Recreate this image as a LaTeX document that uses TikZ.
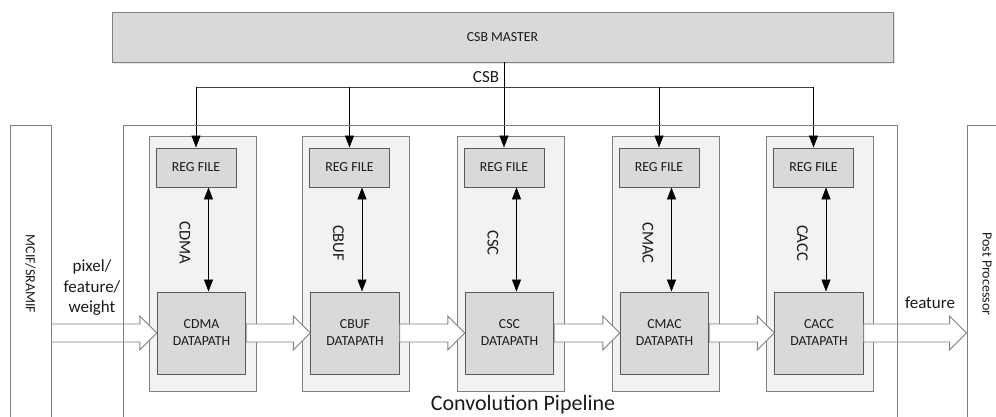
\documentclass[tikz,border=0pt]{standalone}
\usepackage{fontspec}
\setmainfont{Carlito}
\usetikzlibrary{arrows.meta,calc,shadows}
\definecolor{boxgray}{HTML}{D9D9D9}
\definecolor{stagegray}{HTML}{F2F2F2}
\definecolor{edgegray}{HTML}{808080}
\definecolor{darkedge}{HTML}{5A5A5A}
\definecolor{linecol}{HTML}{404040}
\definecolor{txtcol}{HTML}{1A1A1A}
\newcommand\bigarrow[2]{%
  \draw[bigarr] let \p1=(#1.east), \p2=(#2.west), \p3=(dp1.center) in
    (\x1,\y3+9pt) -- (\x2-17pt,\y3+9pt) -- (\x2-17pt,\y3+17pt) -- (\x2,\y3)
    -- (\x2-17pt,\y3-17pt) -- (\x2-17pt,\y3-9pt) -- (\x1,\y3-9pt) -- cycle;}
\begin{document}
\begin{tikzpicture}[x=1pt,y=-1pt,
  outerbox/.style={draw=edgegray,line width=0.9pt,fill=none,inner sep=0pt},
  stagebox/.style={draw=edgegray,fill=stagegray,line width=0.9pt,minimum width=107pt,minimum height=255pt,inner sep=0pt},
  regbox/.style={draw=darkedge,fill=boxgray,line width=0.9pt,minimum width=80pt,minimum height=39pt,inner sep=0pt,text=txtcol,font=\fontsize{13.8}{16}\selectfont},
  dpbox/.style={draw=darkedge,fill=boxgray,line width=0.9pt,minimum width=88.5pt,minimum height=82pt,inner sep=0pt,align=center,text=txtcol,font=\fontsize{13.8}{17}\selectfont},
  stagelabel/.style={rotate=-90,font=\fontsize{16.5}{18}\selectfont,inner sep=0pt,text=txtcol},
  sidelabel/.style={rotate=-90,font=\fontsize{14}{16}\selectfont,inner sep=0pt,text=txtcol},
  sig/.style={draw=black,line width=0.8pt,-{Triangle[width=9pt,length=12pt]}},
  bisig/.style={draw=black,line width=0.8pt,{Triangle[width=9pt,length=12pt]}-{Triangle[width=9pt,length=12pt]}},
  bus/.style={draw=linecol,line width=0.8pt},
  bigarr/.style={draw=edgegray,fill=white,line width=0.9pt,line join=miter},
  plain/.style={inner sep=0pt,text=txtcol}]
\useasboundingbox (0,0) rectangle (996,417);
\clip (0,0) rectangle (996,417);

% CSB master
\node[draw=edgegray,fill=boxgray,line width=0.9pt,minimum width=781pt,minimum height=50pt,inner sep=0pt,
      drop shadow={opacity=0.2,shadow xshift=2pt,shadow yshift=-2pt},
      font=\fontsize{13.8}{16}\selectfont,text=txtcol] (master) at (502.5,37) {CSB MASTER};

% stages
\foreach \i/\l/\n in {1/149/CDMA,2/302.5/CBUF,3/457/CSC,4/612/CMAC,5/766.5/CACC}{
  \node[stagebox] (s\i) at (\l+53.5,263.5) {};
  \node[regbox] (rf\i) at (\l+47,167.5) {REG FILE};
  \node[dpbox] (dp\i) at (\l+52.5,333) {\n\\DATAPATH};
  \node[stagelabel] (lb\i) at (\l+36,243) {\n};
  \pgfmathsetmacro\ax{\l+59.5}
  \coordinate (ax\i) at (\ax,0);
  \draw[bisig] (rf\i.south -| ax\i) -- (dp\i.north -| ax\i);
}

% CSB bus
\coordinate (bustop) at (0,87);
\draw[bus] (rf1.north |- bustop) -- (rf5.north |- bustop);
\foreach \i in {1,2,4,5}{
  \draw[sig] (rf\i.north |- bustop) -- (rf\i.north);
}
\draw[sig] (master.south -| rf3.north) -- (rf3.north);
\node[plain,font=\fontsize{17}{19}\selectfont] (csb) at (486,77) {CSB};

% side boxes
\node[outerbox,minimum width=41pt,minimum height=306pt] (mcif) at (30.5,278) {};
\node[sidelabel] (mciflbl) at (30.5,274) {MCIF/SRAMIF};
\node[outerbox,minimum width=45pt,minimum height=306pt] (pp) at (989.5,278) {};
\node[sidelabel] (pplbl) at (987,274) {Post Processor};

% big data arrows
\bigarrow{mcif}{dp1}
\bigarrow{dp1}{dp2}
\bigarrow{dp2}{dp3}
\bigarrow{dp3}{dp4}
\bigarrow{dp4}{dp5}
\bigarrow{dp5}{pp}

% convolution pipeline box (drawn over arrows)
\node[outerbox,minimum width=774pt,minimum height=306pt] (conv) at (510,278) {};
\node[plain,anchor=base,font=\fontsize{22}{26}\selectfont] (convlbl) at (523,410.5) {Convolution Pipeline};

% labels
\node[plain,align=center,font=\fontsize{17}{20.5}\selectfont] (inlbl) at (92,288) {pixel/\\feature/\\weight};
\node[plain,font=\fontsize{17}{20}\selectfont] (outlbl) at (930,303) {feature};
\end{tikzpicture}
\end{document}
